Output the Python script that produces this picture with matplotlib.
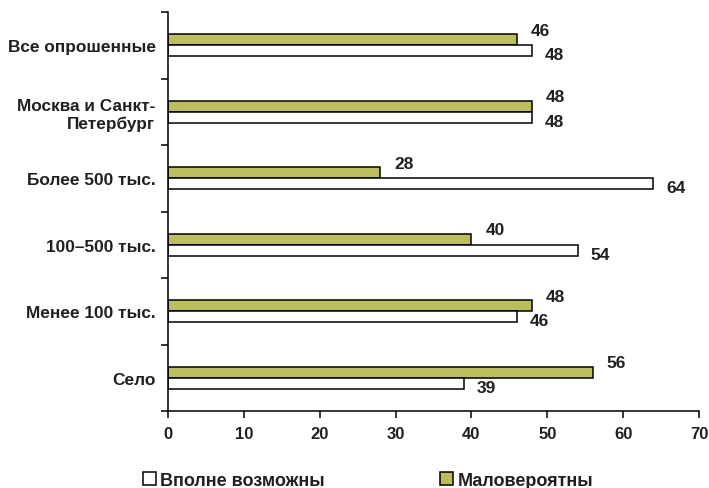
import matplotlib.pyplot as plt
import numpy as np
from matplotlib.patches import Patch

plt.rcParams['font.family'] = ['Liberation Sans', 'DejaVu Sans']
plt.rcParams['font.weight'] = 'bold'

categories = ['Все опрошенные', 'Москва и Санкт-\nПетербург', 'Более 500 тыс.',
              '100–500 тыс.', 'Менее 100 тыс.', 'Село']
vpolne = [48, 48, 64, 54, 46, 39]
malo = [46, 48, 28, 40, 48, 56]
legend_labels = ['Вполне возможны', 'Маловероятны']

text_color = '#231f20'
green = '#bcbe5e'

fig = plt.figure(figsize=(7.09, 4.89), dpi=100)
ax = fig.add_axes([168 / 709, 77 / 489, 531 / 709, 399 / 489])

n = len(categories)
y = np.arange(n)[::-1].astype(float)  # top category first
h = 0.165

ax.barh(y + h / 2, malo, height=h, color=green, edgecolor='black', linewidth=1.1)
ax.barh(y - h / 2, vpolne, height=h, color='white', edgecolor='black', linewidth=1.1)

# value labels
for yi, m, v in zip(y, malo, vpolne):
    ax.annotate(str(m), (m, yi + h / 2), xytext=(10, 7), textcoords='offset points',
                ha='left', va='center', fontsize=12.5, color=text_color, fontweight='bold')
    ax.annotate(str(v), (v, yi - h / 2), xytext=(9, -3), textcoords='offset points',
                ha='left', va='center', fontsize=12.5, color=text_color, fontweight='bold')

ax.set_xlim(0, 70)
ax.set_ylim(-0.5, n - 0.5)
ax.set_xticks(range(0, 71, 10))
ax.tick_params(axis='x', direction='out', length=5, width=1.1, pad=6,
               labelsize=12, labelcolor=text_color)

# category labels at centres, tick marks at group boundaries
ax.set_yticks(np.arange(-0.5, n, 1.0))
ax.set_yticklabels([])
ax.tick_params(axis='y', which='major', direction='out', length=5, width=1.1)
ax.set_yticks(y, minor=True)
ax.set_yticklabels(categories, minor=True, fontsize=12.4, color=text_color,
                   fontweight='bold', ha='right', linespacing=1.2)
ax.tick_params(axis='y', which='minor', length=0, pad=9)

for side in ['top', 'right']:
    ax.spines[side].set_visible(False)
for side in ['left', 'bottom']:
    ax.spines[side].set_linewidth(1.1)

handles = [Patch(facecolor='white', edgecolor='black', linewidth=1.1),
           Patch(facecolor=green, edgecolor='black', linewidth=1.1)]
leg = fig.legend(handles, legend_labels, loc='center', bbox_to_anchor=(0.519, 0.016),
                 ncol=2, frameon=False, fontsize=13, handlelength=0.7, handleheight=0.7,
                 handletextpad=0.25, columnspacing=6.4)
for t in leg.get_texts():
    t.set_color(text_color)

fig.savefig('out.png', dpi=100)
